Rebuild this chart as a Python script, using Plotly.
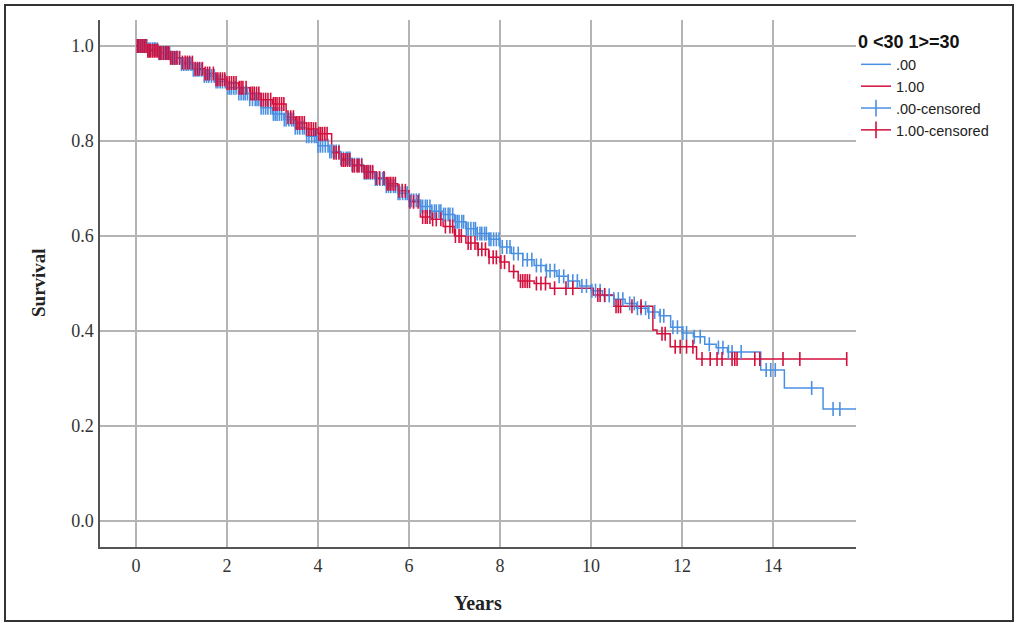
import numpy as np
import plotly.graph_objects as go

# ---- Kaplan-Meier step data ----
blue_t = [0, 0.25, 0.5, 0.75, 1.0, 1.25, 1.5, 1.75, 2.0, 2.25, 2.5, 2.75, 3.0, 3.25, 3.5, 3.75,
          4.0, 4.25, 4.5, 4.75, 5.0, 5.25, 5.5, 5.75, 6.0, 6.25, 6.5, 6.75, 7.0, 7.25, 7.5, 7.75,
          8.0, 8.25, 8.5, 8.75, 9.0, 9.25, 9.5, 9.75, 10.0, 10.25, 10.5, 10.75, 11.0, 11.25, 11.5,
          11.75, 12.0, 12.25, 12.5, 12.75, 13.0, 13.73, 14.25, 15.1, 15.85]
blue_s = [1.000, 0.993, 0.985, 0.975, 0.962, 0.950, 0.937, 0.925, 0.912, 0.900, 0.888, 0.870,
          0.857, 0.845, 0.828, 0.810, 0.790, 0.778, 0.763, 0.750, 0.733, 0.720, 0.705, 0.690,
          0.675, 0.662, 0.652, 0.645, 0.630, 0.615, 0.605, 0.593, 0.577, 0.563, 0.550, 0.538,
          0.527, 0.515, 0.505, 0.495, 0.485, 0.475, 0.467, 0.458, 0.448, 0.440, 0.432, 0.408,
          0.396, 0.388, 0.372, 0.365, 0.356, 0.318, 0.280, 0.236, 0.236]

red_t = [0, 0.25, 0.5, 0.75, 1.0, 1.25, 1.5, 1.75, 2.0, 2.25, 2.5, 2.75, 3.0, 3.3, 3.5, 3.75,
         4.0, 4.3, 4.5, 4.75, 5.0, 5.25, 5.5, 5.75, 6.0, 6.25, 6.5, 6.75, 7.0, 7.25, 7.5, 7.75,
         8.0, 8.2, 8.4, 8.75, 9.1, 10.05, 10.5, 11.36, 11.45, 11.74, 12.32, 15.63]
red_s = [1.000, 0.990, 0.985, 0.975, 0.965, 0.952, 0.942, 0.930, 0.922, 0.912, 0.900, 0.887,
         0.878, 0.850, 0.838, 0.825, 0.815, 0.775, 0.760, 0.748, 0.735, 0.722, 0.710, 0.695,
         0.672, 0.640, 0.635, 0.620, 0.600, 0.585, 0.572, 0.555, 0.545, 0.525, 0.505, 0.500,
         0.490, 0.476, 0.452, 0.402, 0.394, 0.367, 0.341, 0.341]

blue_cens = [0.03, 0.08, 0.12, 0.16, 0.2, 0.24, 0.27, 0.31, 0.36, 0.4, 0.43, 0.47, 0.5, 0.54,
             0.57, 0.62, 0.66, 0.7, 0.74, 0.79, 0.83, 0.87, 0.9, 0.95, 1.0, 1.05, 1.1, 1.15, 1.21,
             1.26, 1.3, 1.34, 1.38, 1.44, 1.5, 1.55, 1.6, 1.66, 1.72, 1.76, 1.8, 1.85, 1.9, 1.96,
             2.02, 2.06, 2.1, 2.15, 2.2, 2.26, 2.31, 2.36, 2.4, 2.45, 2.5, 2.56, 2.62, 2.66, 2.7,
             2.75, 2.8, 2.85, 2.9, 2.96, 3.02, 3.06, 3.1, 3.15, 3.2, 3.26, 3.3, 3.36, 3.42, 3.46,
             3.5, 3.55, 3.6, 3.66, 3.7, 3.75, 3.8, 3.86, 3.92, 3.96, 4.0, 4.05, 4.1, 4.16, 4.22,
             4.26, 4.3, 4.35, 4.4, 4.46, 4.5, 4.56, 4.62, 4.66, 4.7, 4.75, 4.8, 4.86, 4.9, 4.96,
             5.02, 5.06, 5.1, 5.15, 5.2, 5.26, 5.3, 5.36, 5.42, 5.46, 5.5, 5.55, 5.6, 5.66, 5.7,
             5.76, 5.8, 5.86, 5.92, 5.96, 6.0, 6.05, 6.1, 6.16, 6.22, 6.26, 6.3, 6.36, 6.4, 6.46,
             6.5, 6.56, 6.6, 6.66, 6.7, 6.76, 6.8, 6.86, 6.9, 6.96, 7.02, 7.06, 7.1, 7.16, 7.2,
             7.26, 7.3, 7.36, 7.42, 7.46, 7.5, 7.56, 7.6, 7.66, 7.7, 7.76, 7.8, 7.86, 7.92, 7.98,
             8.05, 8.15, 8.22, 8.3, 8.4, 8.5, 8.6, 8.7, 8.8, 8.9, 9.02, 9.1, 9.2, 9.3, 9.4, 9.5,
             9.6, 9.7, 9.8, 9.9, 10.02, 10.1, 10.2, 10.3, 10.4, 10.5, 10.6, 10.7, 10.85, 10.95,
             11.02, 11.1, 11.2, 11.27, 11.4, 11.52, 11.6, 11.8, 11.9, 12.02, 12.1, 12.27, 12.4,
             12.6, 12.8, 12.9, 13.02, 13.1, 13.3, 13.85, 13.95, 14.05, 14.85, 15.32, 15.47, 15.84]
red_cens = [0.03, 0.06, 0.1, 0.14, 0.18, 0.22, 0.26, 0.29, 0.32, 0.36, 0.4, 0.44, 0.48, 0.52,
            0.55, 0.6, 0.65, 0.68, 0.72, 0.76, 0.8, 0.85, 0.9, 0.96, 1.02, 1.08, 1.13, 1.18,
            1.24, 1.3, 1.35, 1.4, 1.46, 1.52, 1.57, 1.62, 1.7, 1.76, 1.8, 1.85, 1.9, 1.95, 2.0,
            2.05, 2.1, 2.15, 2.2, 2.27, 2.31, 2.35, 2.42, 2.52, 2.56, 2.6, 2.65, 2.7, 2.75, 2.8,
            2.85, 2.9, 2.96, 3.02, 3.06, 3.1, 3.15, 3.2, 3.25, 3.34, 3.4, 3.46, 3.52, 3.56, 3.6,
            3.65, 3.7, 3.75, 3.8, 3.85, 3.9, 3.95, 4.02, 4.06, 4.1, 4.15, 4.2, 4.35, 4.4, 4.46,
            4.52, 4.56, 4.6, 4.65, 4.7, 4.76, 4.8, 4.86, 4.9, 4.96, 5.02, 5.06, 5.1, 5.15, 5.2,
            5.28, 5.35, 5.45, 5.52, 5.56, 5.6, 5.65, 5.7, 5.78, 5.85, 5.92, 6.02, 6.1, 6.2, 6.3,
            6.36, 6.4, 6.46, 6.52, 6.6, 6.7, 6.8, 6.9, 6.96, 7.02, 7.1, 7.15, 7.3, 7.36, 7.45,
            7.52, 7.6, 7.68, 7.76, 7.85, 7.92, 8.02, 8.1, 8.3, 8.45, 8.5, 8.55, 8.6, 8.65, 8.8,
            8.9, 9.0, 9.2, 9.45, 9.6, 10.15, 10.2, 10.3, 10.55, 10.6, 10.65, 10.9, 11.1, 11.56,
            11.63, 11.85, 11.96, 12.1, 12.24, 12.44, 12.62, 12.77, 12.88, 13.1, 13.16, 13.21,
            13.6, 13.71, 14.22, 14.59, 15.62]

x_ticks = [0, 2, 4, 6, 8, 10, 12, 14]
y_ticks = [0.0, 0.2, 0.4, 0.6, 0.8, 1.0]
y_tick_text = ["0.0", "0.2", "0.4", "0.6", "0.8", "1.0"]

BLUE = "#4A90E2"
RED = "#D40F3C"


def km_at(times, surv, t):
    idx = np.searchsorted(np.array(times), np.array(t), side="right") - 1
    return np.array(surv)[idx]


def cens_marker(color, size):
    return dict(symbol="line-ns-open", size=size, color=color, line=dict(color=color, width=1.6))


fig = go.Figure()
fig.add_trace(go.Scatter(x=blue_t, y=blue_s, mode="lines", line=dict(color=BLUE, width=1.5, shape="hv"),
                         name=".00"))
fig.add_trace(go.Scatter(x=red_t, y=red_s, mode="lines", line=dict(color=RED, width=1.5, shape="hv"),
                         name="1.00"))
fig.add_trace(go.Scatter(x=blue_cens, y=km_at(blue_t, blue_s, blue_cens), mode="markers",
                         marker=cens_marker(BLUE, 10), showlegend=False, hoverinfo="skip"))
fig.add_trace(go.Scatter(x=red_cens, y=km_at(red_t, red_s, red_cens), mode="markers",
                         marker=cens_marker(RED, 10), showlegend=False, hoverinfo="skip"))
# legend entries for censored marks
fig.add_trace(go.Scatter(x=[None], y=[None], mode="lines+markers", name=".00-censored",
                         line=dict(color=BLUE, width=1.5), marker=cens_marker(BLUE, 12)))
fig.add_trace(go.Scatter(x=[None], y=[None], mode="lines+markers", name="1.00-censored",
                         line=dict(color=RED, width=1.5), marker=cens_marker(RED, 12)))

L, R, T, B = 100, 160, 20, 76
W, H = 1016, 623
pw, ph = W - L - R, H - T - B


def px_x(px):
    return (px - L) / pw


def px_y(py):
    return (H - B - py) / ph


SERIF = "Liberation Serif, Times New Roman, serif"
SANS = "Liberation Sans, Arial, sans-serif"

fig.update_layout(
    width=W, height=H,
    margin=dict(l=L, r=R, t=T, b=B, pad=0),
    paper_bgcolor="white", plot_bgcolor="white",
    showlegend=True,
    legend=dict(
        x=px_x(856), y=px_y(25), xanchor="left", yanchor="top",
        title=dict(text="<b>0 <30 1>=30</b>", font=dict(family=SANS, size=18, color="#111"), side="top"),
        font=dict(family=SANS, size=14.5, color="#222"),
        bgcolor="rgba(0,0,0,0)", tracegroupgap=0, itemwidth=30,
    ),
    xaxis=dict(range=[-0.791, 15.824], tickvals=x_ticks, ticktext=[str(v) for v in x_ticks],
               showgrid=True, gridcolor="#b4b4b4", gridwidth=1.5, zeroline=False,
               showline=True, linecolor="#555555", linewidth=1.5, ticks="",
               ticklabelstandoff=2,
               tickfont=dict(family=SERIF, size=18, color="#333")),
    yaxis=dict(range=[-0.0547, 1.0547], tickvals=y_ticks, ticktext=y_tick_text,
               showgrid=True, gridcolor="#b4b4b4", gridwidth=1.5, zeroline=False,
               showline=True, linecolor="#555555", linewidth=1.5, ticks="",
               ticklabelstandoff=1,
               tickfont=dict(family=SERIF, size=18, color="#333")),
    annotations=[
        dict(text="<b>Years</b>", x=px_x(478), y=px_y(603), xref="paper", yref="paper",
             xanchor="center", yanchor="middle",
             showarrow=False, font=dict(family=SERIF, size=20, color="#222")),
        dict(text="<b>Survival</b>", x=px_x(38), y=px_y(283), xref="paper", yref="paper", textangle=-90,
             xanchor="center", yanchor="middle",
             showarrow=False, font=dict(family=SERIF, size=19, color="#222")),
    ],
    shapes=[
        dict(type="rect", xref="paper", yref="paper", x0=px_x(5), x1=px_x(1013), y0=px_y(621), y1=px_y(5),
             line=dict(color="#333333", width=2), fillcolor="rgba(0,0,0,0)", layer="above"),
    ],
)

fig.write_html("out.html", config={"displayModeBar": False},
               post_script="document.body.style.margin='0px';document.body.style.overflow='hidden';")
